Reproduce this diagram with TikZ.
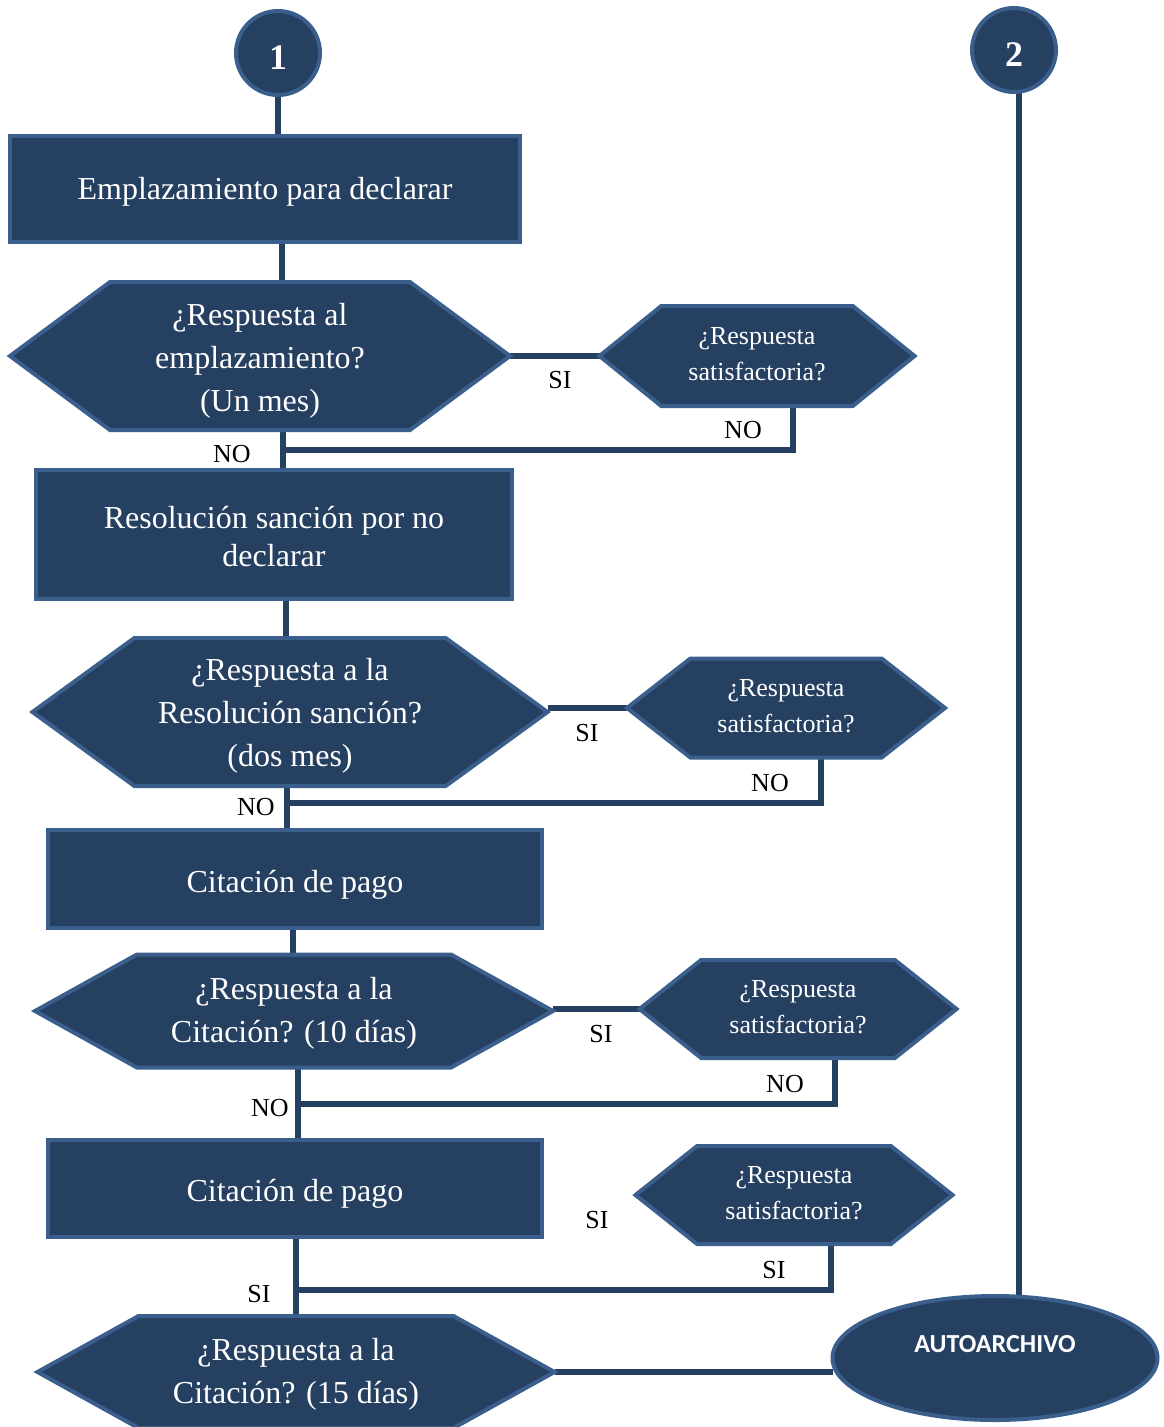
\documentclass[tikz,border=0pt]{standalone}
\usepackage{fontspec}
\setmainfont{Liberation Serif}
\newfontfamily\archfont{Carlito}
\usepackage{xcolor}
\usetikzlibrary{shapes.geometric, shapes.symbols, positioning, backgrounds}
\definecolor{navy}{HTML}{264061}
\definecolor{navyedge}{HTML}{3B5F8D}
\tikzset{
  %% Process box
  proc/.style={
    rectangle, draw=navyedge, fill=navy, text=white,
    line width=4pt, inner sep=0pt, outer sep=0pt, align=center,
    font=\fontsize{32}{38}\selectfont
  },
  %% Decision hexagon (big)
  hexa/.style={
    signal, signal to=west and east, draw=navyedge, fill=navy,
    text=white, line width=4pt, inner sep=0pt, outer sep=0pt,
    align=center, font=\fontsize{32}{43}\selectfont
  },
  %% Decision hexagon (small)
  hexb/.style={
    hexa, font=\fontsize{26}{36}\selectfont
  },
  %% Connector circle
  conn/.style={
    circle, draw=navyedge, fill=navy, text=white,
    line width=4pt, minimum size=84pt, inner sep=0pt, outer sep=0pt,
    text height=33pt, text depth=0pt,
    font=\fontsize{36}{36}\selectfont\bfseries
  },
  %% Terminal ellipse
  term/.style={
    ellipse, draw=navyedge, fill=navy, text=white,
    line width=4pt, inner sep=0pt, outer sep=0pt,
    font=\archfont\fontsize{26}{26}\selectfont\bfseries
  },
  %% Line
  link/.style={draw=navy, line width=6pt},
  %% SI / NO tag
  tag/.style={font=\fontsize{26}{26}\selectfont, text=black, inner sep=0pt},
}
\begin{document}
\begin{tikzpicture}[x=1pt, y=-1pt]
  \useasboundingbox (0,0) rectangle (1163,1427);

  %% Connectors 1 and 2
  \node[conn] (c1) at (278,53) {1};
  \node[conn] (c2) at (1014,50) {2};

  %% Step 1
  \node[proc, minimum width=510pt, minimum height=106pt,
        text height=21pt, text depth=0pt] (b1) at (265,189)
       {Emplazamiento para declarar};
  \node[hexa, minimum width=500pt, minimum height=148pt, signal pointer angle=73]
       (h1) at (260,356) {\rule{0pt}{32pt}¿Respuesta al\\emplazamiento?\\(Un mes)};
  \node[hexb, minimum width=315pt, minimum height=100pt, signal pointer angle=78]
       (h2) at (757,356)
       {¿Respuesta\\satisfactoria?\rule[-4pt]{0pt}{0pt}};

  %% Step 2
  \node[proc, minimum width=476pt, minimum height=129pt] (b2) at (274,534)
       {\rule{0pt}{28pt}Resolución sanción por no\\declarar};
  \node[hexa, minimum width=515pt, minimum height=148pt, signal pointer angle=72]
       (h3) at (290,712)
       {\rule{0pt}{30pt}¿Respuesta a la\\Resolución sanción?\\(dos mes)};
  \node[hexb, minimum width=318pt, minimum height=99pt, signal pointer angle=76]
       (h4) at (786,708)
       {¿Respuesta\\satisfactoria?\rule[-4pt]{0pt}{0pt}};

  %% Step 3
  \node[proc, minimum width=494pt, minimum height=98pt,
        text height=27pt, text depth=0pt] (b3) at (295,879)
       {Citación de pago};
  \node[hexa, minimum width=518pt, minimum height=113pt, signal pointer angle=58]
       (h5) at (294,1011)
       {\rule{0pt}{26pt}¿Respuesta a la\\Citación? (10 días)};
  \node[hexb, minimum width=317pt, minimum height=98pt, signal pointer angle=77]
       (h6) at (798,1009)
       {¿Respuesta\\satisfactoria?\rule[-4pt]{0pt}{0pt}};

  %% Step 4
  \node[proc, minimum width=494pt, minimum height=97pt,
        text height=27pt, text depth=0pt] (b4) at (295,1188)
       {Citación de pago};
  \node[hexb, minimum width=317pt, minimum height=98pt, signal pointer angle=77]
       (h7) at (794,1195)
       {¿Respuesta\\satisfactoria?\rule[-4pt]{0pt}{0pt}};
  \node[hexa, minimum width=517pt, minimum height=112pt, signal pointer angle=58]
       (h8) at (296,1372)
       {\rule{0pt}{26pt}¿Respuesta a la\\Citación? (15 días)};

  %% End
  \node[term, minimum width=325pt, minimum height=124pt, text depth=28pt]
       (arch) at (995,1358) {AUTOARCHIVO};

  %% Junctions on the main line
  \coordinate (j1) at (283,450);
  \coordinate (j2) at (286,803);
  \coordinate (j3) at (298,1104);
  \coordinate (j4) at (297,1290);

  %% Lines
  \begin{scope}[on background layer]
    \draw[link] (c1.south) -- (c1.south |- b1.north);
    \draw[link] ([xshift=17pt]b1.south) -- ([xshift=17pt]b1.south |- h1.north);
    \draw[link] ([xshift=23pt]h1.south) -- ([xshift=23pt]h1.south |- b2.north);
    \draw[link] ([xshift=12pt]b2.south) -- ([xshift=12pt]b2.south |- h3.north);
    \draw[link] ([xshift=-3pt]h3.south) -- ([xshift=-3pt]h3.south |- b3.north);
    \draw[link] ([xshift=-2pt]b3.south) -- ([xshift=-2pt]b3.south |- h5.north);
    \draw[link] ([xshift=4pt]h5.south) -- ([xshift=4pt]h5.south |- b4.north);
    \draw[link] ([xshift=1pt]b4.south) -- ([xshift=1pt]b4.south |- h8.north);

    \draw[link] (h1.east) -- (h2.west);
    \draw[link] (h3.east |- h4.west) -- (h4.west);
    \draw[link] (h5.east |- h6.west) -- (h6.west);
    \draw[link] (h8.east) -- (h8.east -| arch.west);

    \draw[link] ([xshift=36pt]h2.south) |- (j1);
    \draw[link] ([xshift=35pt]h4.south) |- (j2);
    \draw[link] ([xshift=37pt]h6.south) |- (j3);
    \draw[link] ([xshift=37pt]h7.south) |- (j4);

    \draw[link] ([xshift=5pt]c2.south) -- ([xshift=5pt]c2.south |- arch.north);
  \end{scope}

  %% Tags
  \node[tag] (t1) at (560,380) {SI};
  \node[tag] (t2) at (743,430) {NO};
  \node[tag] (t3) at (232,454) {NO};
  \node[tag] (t4) at (587,733) {SI};
  \node[tag] (t5) at (770,783) {NO};
  \node[tag] (t6) at (256,807) {NO};
  \node[tag] (t7) at (601,1034) {SI};
  \node[tag] (t8) at (785,1084) {NO};
  \node[tag] (t9) at (270,1108) {NO};
  \node[tag] (t10) at (597,1220) {SI};
  \node[tag] (t11) at (774,1270) {SI};
  \node[tag] (t12) at (259,1294) {SI};

\end{tikzpicture}
\end{document}
